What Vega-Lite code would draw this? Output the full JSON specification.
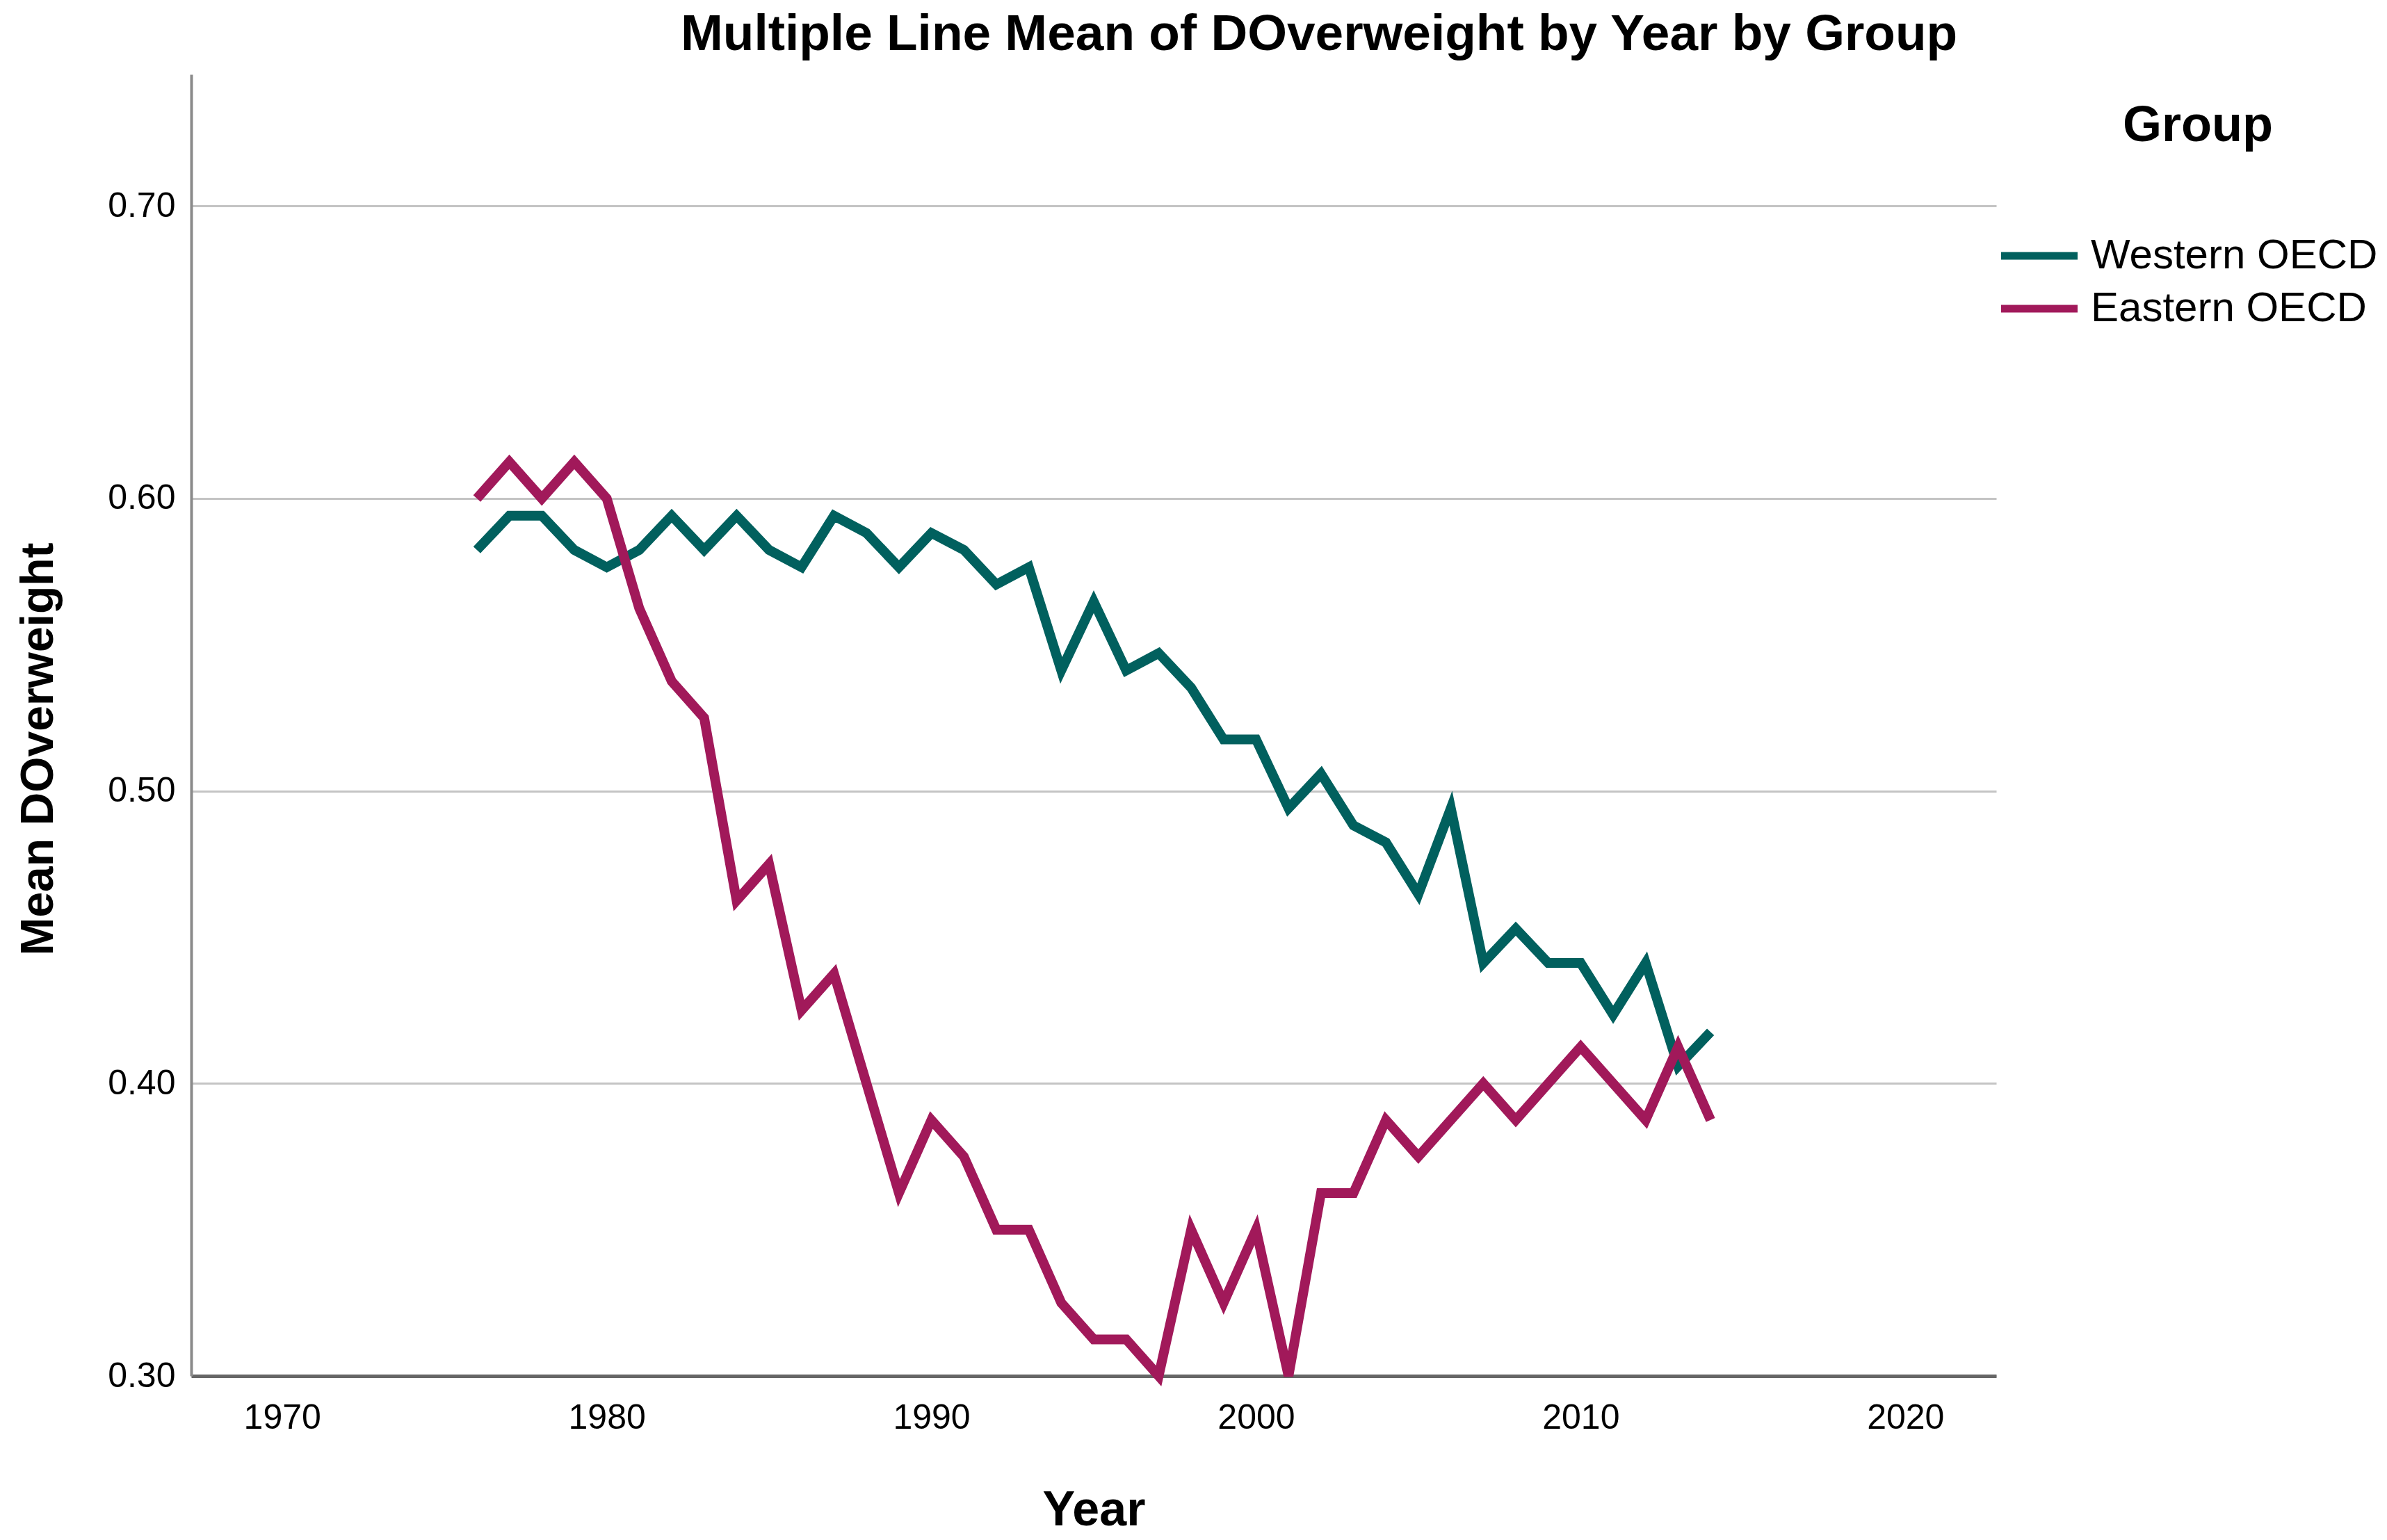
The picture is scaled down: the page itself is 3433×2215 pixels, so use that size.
{
  "$schema": "https://vega.github.io/schema/vega-lite/v6.json",
  "width": 2596,
  "height": 1872,
  "autosize": {"type": "none"},
  "padding": {"left": 275, "top": 107, "right": 562, "bottom": 236},
  "background": "white",
  "title": {
    "text": "Multiple Line Mean of DOverweight by Year by Group",
    "anchor": "start",
    "frame": "group",
    "dx": 704,
    "dy": 71,
    "offset": 33,
    "baseline": "alphabetic",
    "font": "Liberation Sans",
    "fontSize": 73,
    "fontWeight": "bold",
    "color": "black",
    "limit": 3000
  },
  "data": {
    "values": [
      {"Year": 1976, "Group": "Western OECD", "MeanDOverweight": 0.5824},
      {"Year": 1977, "Group": "Western OECD", "MeanDOverweight": 0.5941},
      {"Year": 1978, "Group": "Western OECD", "MeanDOverweight": 0.5941},
      {"Year": 1979, "Group": "Western OECD", "MeanDOverweight": 0.5824},
      {"Year": 1980, "Group": "Western OECD", "MeanDOverweight": 0.5765},
      {"Year": 1981, "Group": "Western OECD", "MeanDOverweight": 0.5824},
      {"Year": 1982, "Group": "Western OECD", "MeanDOverweight": 0.5941},
      {"Year": 1983, "Group": "Western OECD", "MeanDOverweight": 0.5824},
      {"Year": 1984, "Group": "Western OECD", "MeanDOverweight": 0.5941},
      {"Year": 1985, "Group": "Western OECD", "MeanDOverweight": 0.5824},
      {"Year": 1986, "Group": "Western OECD", "MeanDOverweight": 0.5765},
      {"Year": 1987, "Group": "Western OECD", "MeanDOverweight": 0.5941},
      {"Year": 1988, "Group": "Western OECD", "MeanDOverweight": 0.5882},
      {"Year": 1989, "Group": "Western OECD", "MeanDOverweight": 0.5765},
      {"Year": 1990, "Group": "Western OECD", "MeanDOverweight": 0.5882},
      {"Year": 1991, "Group": "Western OECD", "MeanDOverweight": 0.5824},
      {"Year": 1992, "Group": "Western OECD", "MeanDOverweight": 0.5706},
      {"Year": 1993, "Group": "Western OECD", "MeanDOverweight": 0.5765},
      {"Year": 1994, "Group": "Western OECD", "MeanDOverweight": 0.5412},
      {"Year": 1995, "Group": "Western OECD", "MeanDOverweight": 0.5647},
      {"Year": 1996, "Group": "Western OECD", "MeanDOverweight": 0.5412},
      {"Year": 1997, "Group": "Western OECD", "MeanDOverweight": 0.5471},
      {"Year": 1998, "Group": "Western OECD", "MeanDOverweight": 0.5353},
      {"Year": 1999, "Group": "Western OECD", "MeanDOverweight": 0.5176},
      {"Year": 2000, "Group": "Western OECD", "MeanDOverweight": 0.5176},
      {"Year": 2001, "Group": "Western OECD", "MeanDOverweight": 0.4941},
      {"Year": 2002, "Group": "Western OECD", "MeanDOverweight": 0.5059},
      {"Year": 2003, "Group": "Western OECD", "MeanDOverweight": 0.4882},
      {"Year": 2004, "Group": "Western OECD", "MeanDOverweight": 0.4824},
      {"Year": 2005, "Group": "Western OECD", "MeanDOverweight": 0.4647},
      {"Year": 2006, "Group": "Western OECD", "MeanDOverweight": 0.4941},
      {"Year": 2007, "Group": "Western OECD", "MeanDOverweight": 0.4412},
      {"Year": 2008, "Group": "Western OECD", "MeanDOverweight": 0.4529},
      {"Year": 2009, "Group": "Western OECD", "MeanDOverweight": 0.4412},
      {"Year": 2010, "Group": "Western OECD", "MeanDOverweight": 0.4412},
      {"Year": 2011, "Group": "Western OECD", "MeanDOverweight": 0.4235},
      {"Year": 2012, "Group": "Western OECD", "MeanDOverweight": 0.4412},
      {"Year": 2013, "Group": "Western OECD", "MeanDOverweight": 0.4059},
      {"Year": 2014, "Group": "Western OECD", "MeanDOverweight": 0.4176},
      {"Year": 1976, "Group": "Eastern OECD", "MeanDOverweight": 0.6},
      {"Year": 1977, "Group": "Eastern OECD", "MeanDOverweight": 0.6125},
      {"Year": 1978, "Group": "Eastern OECD", "MeanDOverweight": 0.6},
      {"Year": 1979, "Group": "Eastern OECD", "MeanDOverweight": 0.6125},
      {"Year": 1980, "Group": "Eastern OECD", "MeanDOverweight": 0.6},
      {"Year": 1981, "Group": "Eastern OECD", "MeanDOverweight": 0.5625},
      {"Year": 1982, "Group": "Eastern OECD", "MeanDOverweight": 0.5375},
      {"Year": 1983, "Group": "Eastern OECD", "MeanDOverweight": 0.525},
      {"Year": 1984, "Group": "Eastern OECD", "MeanDOverweight": 0.4625},
      {"Year": 1985, "Group": "Eastern OECD", "MeanDOverweight": 0.475},
      {"Year": 1986, "Group": "Eastern OECD", "MeanDOverweight": 0.425},
      {"Year": 1987, "Group": "Eastern OECD", "MeanDOverweight": 0.4375},
      {"Year": 1988, "Group": "Eastern OECD", "MeanDOverweight": 0.4},
      {"Year": 1989, "Group": "Eastern OECD", "MeanDOverweight": 0.3625},
      {"Year": 1990, "Group": "Eastern OECD", "MeanDOverweight": 0.3875},
      {"Year": 1991, "Group": "Eastern OECD", "MeanDOverweight": 0.375},
      {"Year": 1992, "Group": "Eastern OECD", "MeanDOverweight": 0.35},
      {"Year": 1993, "Group": "Eastern OECD", "MeanDOverweight": 0.35},
      {"Year": 1994, "Group": "Eastern OECD", "MeanDOverweight": 0.325},
      {"Year": 1995, "Group": "Eastern OECD", "MeanDOverweight": 0.3125},
      {"Year": 1996, "Group": "Eastern OECD", "MeanDOverweight": 0.3125},
      {"Year": 1997, "Group": "Eastern OECD", "MeanDOverweight": 0.3},
      {"Year": 1998, "Group": "Eastern OECD", "MeanDOverweight": 0.35},
      {"Year": 1999, "Group": "Eastern OECD", "MeanDOverweight": 0.325},
      {"Year": 2000, "Group": "Eastern OECD", "MeanDOverweight": 0.35},
      {"Year": 2001, "Group": "Eastern OECD", "MeanDOverweight": 0.3},
      {"Year": 2002, "Group": "Eastern OECD", "MeanDOverweight": 0.3625},
      {"Year": 2003, "Group": "Eastern OECD", "MeanDOverweight": 0.3625},
      {"Year": 2004, "Group": "Eastern OECD", "MeanDOverweight": 0.3875},
      {"Year": 2005, "Group": "Eastern OECD", "MeanDOverweight": 0.375},
      {"Year": 2006, "Group": "Eastern OECD", "MeanDOverweight": 0.3875},
      {"Year": 2007, "Group": "Eastern OECD", "MeanDOverweight": 0.4},
      {"Year": 2008, "Group": "Eastern OECD", "MeanDOverweight": 0.3875},
      {"Year": 2009, "Group": "Eastern OECD", "MeanDOverweight": 0.4},
      {"Year": 2010, "Group": "Eastern OECD", "MeanDOverweight": 0.4125},
      {"Year": 2011, "Group": "Eastern OECD", "MeanDOverweight": 0.4},
      {"Year": 2012, "Group": "Eastern OECD", "MeanDOverweight": 0.3875},
      {"Year": 2013, "Group": "Eastern OECD", "MeanDOverweight": 0.4125},
      {"Year": 2014, "Group": "Eastern OECD", "MeanDOverweight": 0.3875}
    ]
  },
  "mark": {"type": "line", "strokeWidth": 14, "strokeJoin": "miter", "strokeCap": "butt", "clip": false},
  "encoding": {
    "x": {
      "field": "Year",
      "type": "quantitative",
      "scale": {"domain": [1967.2, 2022.8], "nice": false, "zero": false},
      "axis": {
        "title": "Year",
        "values": [1970, 1980, 1990, 2000, 2010, 2020],
        "format": "d",
        "grid": false,
        "ticks": false,
        "tickSize": 0,
        "labelFont": "Liberation Sans",
        "labelFontSize": 50,
        "labelColor": "black",
        "labelPadding": 35,
        "labelBaseline": "top",
        "labelFlush": false,
        "domainColor": "#666666",
        "domainWidth": 5,
        "titleFont": "Liberation Sans",
        "titleFontSize": 70,
        "titleFontWeight": "bold",
        "titleColor": "black",
        "titleX": 1298,
        "titleY": 193,
        "titleAlign": "center",
        "titleBaseline": "middle"
      }
    },
    "y": {
      "field": "MeanDOverweight",
      "type": "quantitative",
      "title": "Mean DOverweight",
      "scale": {"domain": [0.3, 0.745], "nice": false, "zero": false},
      "axis": {
        "values": [0.3, 0.4, 0.5, 0.6, 0.7],
        "format": ".2f",
        "grid": true,
        "gridColor": "#c4c4c4",
        "gridWidth": 3,
        "ticks": false,
        "tickSize": 0,
        "labelFont": "Liberation Sans",
        "labelFontSize": 50,
        "labelColor": "black",
        "labelPadding": 23,
        "labelFlush": false,
        "domainColor": "#8a8a8a",
        "domainWidth": 4,
        "titleFont": "Liberation Sans",
        "titleFontSize": 66,
        "titleFontWeight": "bold",
        "titleColor": "black",
        "titleX": -220,
        "titleY": 970,
        "titleAngle": -90,
        "titleAlign": "center",
        "titleBaseline": "middle"
      }
    },
    "color": {
      "field": "Group",
      "type": "nominal",
      "scale": {"domain": ["Western OECD", "Eastern OECD"], "range": ["#01605e", "#a1195a"]},
      "legend": {
        "orient": "none",
        "legendX": 2628,
        "legendY": 39,
        "direction": "vertical",
        "padding": 0,
        "title": "Group",
        "titleFont": "Liberation Sans",
        "titleFontSize": 72,
        "titleFontWeight": "bold",
        "titleColor": "black",
        "titleAnchor": "middle",
        "titleLimit": 2000,
        "titlePadding": 120,
        "labelFont": "Liberation Sans",
        "labelFontSize": 60,
        "labelColor": "black",
        "labelLimit": 2000,
        "labelOffset": 44,
        "symbolType": "M-3,0H3",
        "symbolSize": 1344,
        "symbolStrokeWidth": 11,
        "rowPadding": 16
      }
    }
  },
  "config": {"view": {"stroke": null}}
}
